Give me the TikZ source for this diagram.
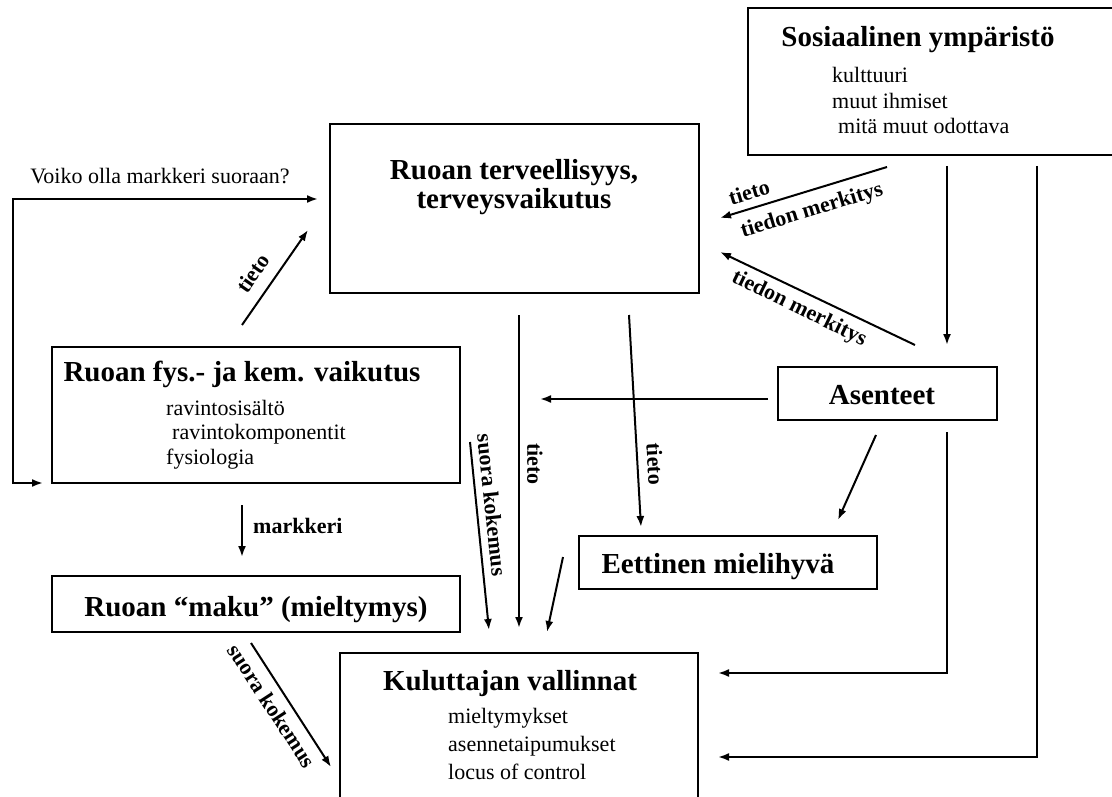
\documentclass[tikz,border=0pt]{standalone}
\usepackage{fontspec}
\setmainfont{Liberation Serif}
\usetikzlibrary{arrows.meta,calc}

\begin{document}
\begin{tikzpicture}[x=1pt,y=-1pt,
  box/.style={draw, line width=1.2pt, inner sep=0pt},
  title/.style={font=\fontsize{29}{33}\selectfont\bfseries, inner sep=0pt, anchor=base},
  item/.style={font=\fontsize{22}{26}\selectfont, inner sep=0pt, anchor=base west},
  lab/.style={font=\fontsize{22}{26}\selectfont\bfseries, inner sep=0pt},
  arr/.style={-{Latex[length=11pt,width=8pt]}, line width=2pt},
  both/.style={{Latex[length=11pt,width=8pt]}-{Latex[length=11pt,width=8pt]}, line width=2pt}]
  \useasboundingbox (0,0) rectangle (1112,797);
  % Define the boxes
  \node[box, minimum width=368, minimum height=147] (sos) at (932,81.5) {};
  \node[box, minimum width=369, minimum height=169] (terv) at (514.5,208.5) {};
  \node[box, minimum width=408, minimum height=136] (fys) at (256,415) {};
  \node[box, minimum width=408, minimum height=56] (maku) at (256,604) {};
  \node[box, minimum width=219, minimum height=53] (asen) at (887.5,393.5) {};
  \node[box, minimum width=298, minimum height=53] (eett) at (728,562.5) {};
  \node[box, minimum width=358, minimum height=152] (kulu) at (519,729) {};
  % Titles
  \node[title] (sos-t) at (918,47) {Sosiaalinen ympäristö};
  \node[title] (terv-t1) at (514,179) {Ruoan terveellisyys,};
  \node[title] (terv-t2) at (514,209) {terveysvaikutus};
  \node[title] (fys-t) at (242,381) {Ruoan fys.- ja kem. vaikutus};
  \node[title] (maku-t) at (256,616) {Ruoan “maku” (mieltymys)};
  \node[title] (asen-t) at (882,404) {Asenteet};
  \node[title] (eett-t) at (718,573) {Eettinen mielihyvä};
  \node[title] (kulu-t) at (510,690) {Kuluttajan vallinnat};
  % Lists inside the boxes
  \foreach \dx/\t [count=\i] in {0/kulttuuri, 0/muut ihmiset, 6/mitä muut odottava}
  {
    \node[item] (sos-\i) at (832+\dx,57.5+25.5*\i) {\t};
  }
  \foreach \dx/\t [count=\i] in {0/ravintosisältö, 6/ravintokomponentit, 0/fysiologia}
  {
    \node[item] (fys-\i) at (166+\dx,390.5+24.5*\i) {\t};
  }
  \foreach \t [count=\i] in {mieltymykset, asennetaipumukset, locus of control}
  {
    \node[item] (kulu-\i) at (448,695+28*\i) {\t};
  }
  \node[item, anchor=base] (voiko) at (160,184) {Voiko olla markkeri suoraan?};
  % Define named coordinates
  \coordinate (s1) at (887,167); \coordinate (t1) at (720,218);
  \coordinate (a1) at (915,345); \coordinate (t2) at (720,252);
  \coordinate (f1) at (242,325); \coordinate (t3) at (308,230);
  \coordinate (t4) at (318,199); \coordinate (v1) at (13,199);
  \coordinate (v2) at (13,483);  \coordinate (f2) at (43,483);
  \coordinate (t5) at (519,315); \coordinate (k1) at (519,628);
  \coordinate (t6) at (629,315); \coordinate (e1) at (641,527);
  \coordinate (f3) at (470,442); \coordinate (k2) at (489,630);
  \coordinate (e2) at (563,557); \coordinate (k3) at (547,632);
  \coordinate (a2) at (768,399); \coordinate (m1) at (540,399);
  \coordinate (a3) at (876,435); \coordinate (e3) at (838,520);
  \coordinate (s2) at (947,166); \coordinate (a4) at (947,345);
  \coordinate (a5) at (947,432); \coordinate (c1) at (947,673);
  \coordinate (k4) at (718,673);
  \coordinate (s3) at (1037,166); \coordinate (c2) at (1037,757);
  \coordinate (k5) at (718,757);
  \coordinate (f4) at (242,505); \coordinate (m2) at (242,557);
  \coordinate (m3) at (251,643); \coordinate (k6) at (331,767);
  % Draw the connectors
  \draw[arr] (s1) -- (t1);
  \draw[arr] (a1) -- (t2);
  \draw[arr] (f1) -- (t3);
  \draw[both] (t4) -- (v1) -- (v2) -- (f2);
  \draw[arr] (t5) -- (k1);
  \draw[arr] (t6) -- (e1);
  \draw[arr] (f3) -- (k2);
  \draw[arr] (e2) -- (k3);
  \draw[arr] (a2) -- (m1);
  \draw[arr] (a3) -- (e3);
  \draw[arr] (s2) -- (a4);
  \draw[arr] (a5) -- (c1) -- (k4);
  \draw[arr] (s3) -- (c2) -- (k5);
  \draw[arr] (f4) -- (m2);
  \draw[arr] (m3) -- (k6);
  % Label the connectors
  \node[lab, rotate=17] (l-tieto1) at (749,192) {tieto};
  \node[lab, rotate=17] (l-merk1) at (812,211) {tiedon merkitys};
  \node[lab, rotate=-26] (l-merk2) at (799,309) {tiedon merkitys};
  \node[lab, rotate=55] (l-tieto2) at (253,273) {tieto};
  \node[lab, rotate=-90] (l-tieto3) at (535,464) {tieto};
  \node[lab, rotate=-87] (l-tieto4) at (655,464) {tieto};
  \node[lab, rotate=-84] (l-suora1) at (492,505) {suora kokemus};
  \node[lab, rotate=-57] (l-suora2) at (272,706) {suora kokemus};
  \node[lab, anchor=base west] (l-mark) at (253,533) {markkeri};
\end{tikzpicture}
\end{document}
